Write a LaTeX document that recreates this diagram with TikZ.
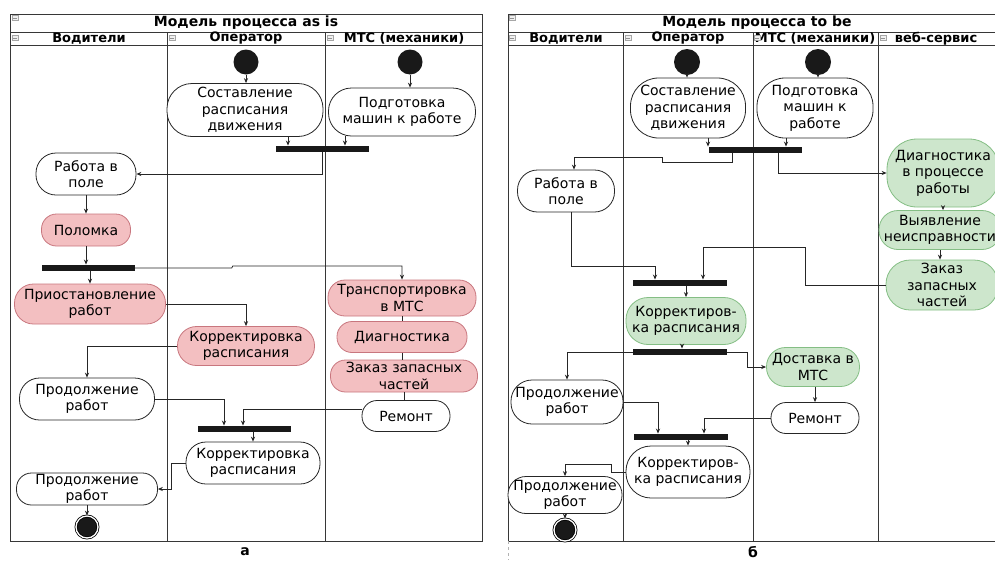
\documentclass[tikz,border=0pt]{standalone}
\usepackage{fontspec}
\setmainfont{DejaVu Sans}
\usetikzlibrary{arrows.meta}
\definecolor{actpink}{RGB}{243,191,193}
\definecolor{actpinkd}{RGB}{200,118,126}
\definecolor{actgreen}{RGB}{205,230,204}
\definecolor{actgreend}{RGB}{132,190,132}
\definecolor{framec}{RGB}{55,55,55}
\tikzset{
  actw/.style={draw=black!85, fill=white, line width=0.8pt, rounded corners=15pt,
    align=center, inner sep=1pt, font=\fontsize{14}{16.5}\selectfont},
  actp/.style={actw, draw=actpinkd, fill=actpink},
  actg/.style={actw, draw=actgreend, fill=actgreen},
  forkbar/.style={fill=black!90, minimum width=93pt, minimum height=6.5pt, inner sep=0pt},
  initnode/.style={circle, fill=black!90, minimum size=25pt, inner sep=0pt},
  finalnode/.style={circle, fill=black!90, draw=black, double=white, double distance=1.3pt,
    line width=0.8pt, minimum size=22pt, inner sep=0pt},
  flow/.style={-{Stealth[length=5pt,width=4.2pt]}, black!85, line width=0.8pt},
  link/.style={black!85, line width=0.8pt},
  lane/.style={framec, line width=1pt},
  headtxt/.style={font=\bfseries\fontsize{13}{15}\selectfont},
  titletxt/.style={font=\bfseries\fontsize{14}{16}\selectfont},
  icon/.style={draw=gray!70, fill=gray!12, minimum width=6pt, minimum height=5pt, inner sep=0pt,
    line width=0.4pt, path picture={\draw[gray!85, line width=0.6pt]
      ([xshift=1.2pt]path picture bounding box.west) -- ([xshift=-1.2pt]path picture bounding box.east);}},
}

\begin{document}
\begin{tikzpicture}[x=1pt, y=-1pt]
  \useasboundingbox (0,0) rectangle (995,560);
  \clip (0,0) rectangle (995,560);

  % as is: frame and lanes
  \draw[lane] (10,14) rectangle (482,541);
  \draw[lane] (10,32) -- (482,32) (10,45) -- (482,45);
  \draw[lane] (167,32) -- (167,541) (325,32) -- (325,541);
  \node[titletxt] (ttlA) at (246,23) {Модель процесса as is};
  \node[headtxt] (hA1) at (89,38.5) {Водители};
  \node[headtxt] (hA2) at (246,38.5) {Оператор};
  \node[headtxt] (hA3) at (404,38.5) {МТС (механики)};

  % to be: frame and lanes
  \draw[lane] (995,14) -- (508,14) -- (508,541) -- (995,541);
  \draw[lane] (508,32) -- (995,32) (508,45) -- (995,45);
  \draw[lane] (623,32) -- (623,541) (753,32) -- (753,541) (878,32) -- (878,541);
  \draw[gray!60, dashed] (508,541) -- (508,560);
  \node[titletxt] (ttlB) at (757,23) {Модель процесса to be};
  \node[headtxt] (hB1) at (566,38.5) {Водители};
  \node[headtxt] (hB2) at (688,38.5) {Оператор};
  \node[headtxt] (hB3) at (815,38.5) {МТС (механики)};
  \node[headtxt] (hB4) at (936,38.5) {веб-сервис};

  \foreach \ix/\iy [count=\i] in {15/18, 15/38, 172/38, 330/38, 512/18, 512/38, 628/38, 757/38, 883/38}
    \node[icon] (ic\i) at (\ix,\iy) {};

  % as is: activities
  \node[initnode] (st1) at (246,62) {};
  \node[initnode] (st2) at (410,62) {};
  \node[actw, minimum width=156pt, minimum height=53pt, rounded corners=25pt] (sost1) at (245,110) {Составление\\расписания\\движения};
  \node[actw, minimum width=147pt, minimum height=48pt, rounded corners=23pt] (podg1) at (402,112) {Подготовка\\машин к работе};
  \node[forkbar] (fork1) at (322,149) {};
  \node[actw, minimum width=100pt, minimum height=42pt, rounded corners=20pt] (rab1) at (86,174) {Работа в\\поле};
  \node[actp, minimum width=89pt, minimum height=32pt] (polom) at (86,230) {Поломка};
  \node[forkbar] (fork2) at (88,268) {};
  \node[actp, minimum width=151pt, minimum height=40pt, rounded corners=19pt] (pri) at (90,304) {Приостановление\\работ};
  \node[actp, minimum width=137pt, minimum height=39pt, rounded corners=19pt] (kor1) at (246,346) {Корректировка\\расписания};
  \node[actw, minimum width=135pt, minimum height=42pt, rounded corners=20pt] (prod1) at (87,399) {Продолжение\\работ};
  \node[actp, minimum width=148pt, minimum height=36pt, rounded corners=17pt] (trans) at (402,298) {Транспортировка\\в МТС};
  \node[actp, minimum width=130pt, minimum height=31pt] (diag1) at (402,337) {Диагностика};
  \node[actp, minimum width=147pt, minimum height=32pt] (zak1) at (404,376) {Заказ запасных\\частей};
  \node[actw, minimum width=88pt, minimum height=31pt] (rem1) at (406,416) {Ремонт};
  \node[forkbar] (fork3) at (244,429) {};
  \node[actw, minimum width=134pt, minimum height=42pt, rounded corners=20pt] (kor2) at (253,463) {Корректировка\\расписания};
  \node[actw, minimum width=141pt, minimum height=32pt] (prod2) at (87,489) {Продолжение\\работ};
  \node[finalnode] (end1) at (87,527) {};
  \node[titletxt] (capA) at (245,552) {а};

  % as is: flows
  \draw[flow] (st1.south) -- (st1 |- sost1.north);
  \draw[flow] (st2.south) -- (st2 |- podg1.north);
  \draw[flow] (sost1.south) ++(43,0) coordinate (p1) -- (p1 |- fork1.north);
  \draw[flow] (podg1.south) ++(-57,0) coordinate (p2) -- (p2 |- fork1.north);
  \draw[flow] (fork1.south) |- (rab1.east);
  \draw[flow] (rab1.south) -- (rab1.south |- polom.north);
  \draw[flow] (polom.south) -- (polom.south |- fork2.north);
  \draw[flow] (pri.north |- fork2.south) -- (pri.north);
  \draw[flow] (fork2.east) -- ++(97,0) -- ++(1,-2) -| (trans.north);
  \draw[flow] (pri.east) -| (kor1.north);
  \draw[flow] (kor1.west) -| (prod1.north);
  \draw[link] (trans.south) -- (diag1.north);
  \draw[link] (diag1.south) -- (diag1.south |- zak1.north);
  \draw[link] (zak1.south) -- (zak1.south |- rem1.north);
  \draw[flow] (rem1.west) ++(0,-7) -| ([xshift=-1pt]fork3.north);
  \draw[flow] (prod1.east) -| ([xshift=-20pt]fork3.north);
  \draw[flow] (kor2.north |- fork3.south) -- (kor2.north);
  \draw[flow] (kor2.west) -- ++(-14,0) |- (prod2.east);
  \draw[flow] (prod2.south) -- (end1.north);

  % to be: activities
  \node[initnode, minimum size=26pt] (st3) at (687,62) {};
  \node[initnode, minimum size=26pt] (st4) at (818,62) {};
  \node[actw, minimum width=115pt, minimum height=60pt, rounded corners=28pt] (sost2) at (688,108) {Составление\\расписания\\движения};
  \node[actw, minimum width=116pt, minimum height=60pt, rounded corners=28pt] (podg2) at (815,108) {Подготовка\\машин к\\работе};
  \node[forkbar] (fork4) at (755,150) {};
  \node[actw, minimum width=97pt, minimum height=42pt, rounded corners=20pt] (rab2) at (566,191) {Работа в\\поле};
  \node[actg, minimum width=112pt, minimum height=68pt, rounded corners=30pt] (diag2) at (943,173) {Диагностика\\в процессе\\работы};
  \node[actg, minimum width=122pt, minimum height=39pt, rounded corners=19pt] (vyav) at (940,230) {Выявление\\неисправности};
  \node[actg, minimum width=112pt, minimum height=50pt, rounded corners=24pt] (zak2) at (942,285) {Заказ\\запасных\\частей};
  \node[forkbar, minimum width=94pt] (fork5) at (680,283) {};
  \node[actg, minimum width=120pt, minimum height=47pt, rounded corners=22pt] (korg) at (686,321) {Корректиров-\\ка расписания};
  \node[forkbar, minimum width=94pt] (fork6) at (680,352) {};
  \node[actg, minimum width=93pt, minimum height=39pt, rounded corners=19pt] (dost) at (813,367) {Доставка в\\МТС};
  \node[actw, minimum width=88pt, minimum height=31pt] (rem2) at (815,418) {Ремонт};
  \node[actw, minimum width=112pt, minimum height=44pt, rounded corners=21pt] (prod3) at (567,402) {Продолжение\\работ};
  \node[forkbar, minimum width=94pt] (fork7) at (681,437) {};
  \node[actw, minimum width=124pt, minimum height=52pt, rounded corners=25pt] (korw) at (688,472) {Корректиров-\\ка расписания};
  \node[actw, minimum width=114pt, minimum height=37pt, rounded corners=18pt] (prod4) at (565,495) {Продолжение\\работ};
  \node[finalnode] (end2) at (565,530) {};
  \node[titletxt] (capB) at (753,552) {б};

  % to be: flows
  \draw[flow] (st3.south) -- (st3 |- sost2.north);
  \draw[flow] (st4.south) -- (st4 |- podg2.north);
  \draw[flow] (sost2.south) ++(20,0) coordinate (q1) -- (q1 |- fork4.north);
  \draw[flow] (podg2.south) ++(-29,0) coordinate (q2) -- (q2 |- fork4.north);
  \draw[flow] (fork4.south) ++(-23,0) -- ++(0,9) -- ++(-70,0) -- ++(0,-5) -| ([xshift=8pt]rab2.north);
  \draw[flow] (fork4.south) ++(23,0) |- (diag2.west);
  \draw[flow] (diag2.south) -- (diag2.south |- vyav.north);
  \draw[flow] (vyav.south) -- (vyav.south |- zak2.north);
  \draw[flow] (zak2.west) -- ++(-80,0) -- ++(0,-38) -| ([xshift=23pt]fork5.north);
  \draw[flow] (rab2.south) ++(5,0) -- ++(0,54) -| ([xshift=-25pt]fork5.north);
  \draw[flow] (korg.north |- fork5.south) -- (korg.north);
  \draw[flow] (korg.south) ++(-4,0) coordinate (q3) -- (q3 |- fork6.north);
  \draw[flow] (fork6.west) -| (prod3.north);
  \draw[flow] (fork6.east) -- ++(20,0) |- (dost.west);
  \draw[flow] (rem2.north |- dost.south) -- (rem2.north);
  \draw[flow] (rem2.west) -| ([xshift=23pt]fork7.north);
  \draw[flow] (prod3.east) -| ([xshift=-23pt]fork7.north);
  \draw[flow] (korw.north |- fork7.south) -- (korw.north);
  \draw[flow] (korw.west) -- ++(-14,0) -- ++(0,-8) -| (prod4.north);
  \draw[flow] (prod4.south) -- (end2.north);
\end{tikzpicture}
\end{document}
